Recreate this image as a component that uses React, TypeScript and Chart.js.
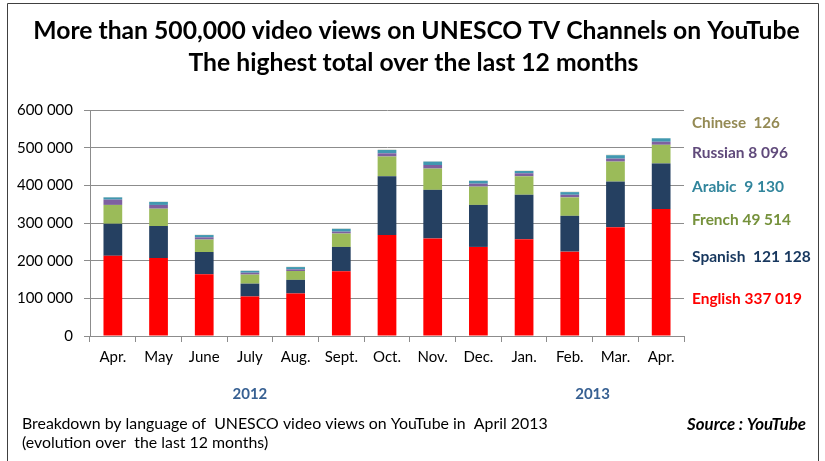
import React, { useEffect, useRef } from "react";
import { Chart, registerables } from "chart.js";

Chart.register(...registerables);

const months = ["Apr.", "May", "June", "July", "Aug.", "Sept.", "Oct.", "Nov.", "Dec.", "Jan.", "Feb.", "Mar.", "Apr."];
const english = [213000, 207000, 164000, 105000, 113000, 172000, 268000, 259000, 236500, 257000, 224000, 289000, 337019];
const spanish = [85000, 85000, 59000, 34000, 36000, 64500, 156000, 129000, 111500, 118000, 95000, 121000, 121128];
const french = [50000, 46000, 33000, 24000, 23500, 35500, 52500, 56500, 48500, 49000, 49000, 53000, 49514];
const russian = [14000, 10000, 6000, 5000, 4500, 5000, 8500, 9500, 8000, 8000, 7000, 8000, 8096];
const arabic = [6000, 8000, 6000, 5000, 6000, 7500, 9000, 9000, 7500, 6000, 7000, 9000, 9130];
const chinese = [1000, 1000, 1200, 1200, 1200, 1200, 1200, 1200, 1200, 1500, 1500, 1500, 600];

const years = ["2012", "2013"];
const yearIndex = [3, 10.5];

const sideNames = ["Chinese  126", "Russian 8 096", "Arabic  9 130", "French 49 514", "Spanish  121 128", "English 337 019"];
const sideColors = ["#948A54", "#604A7B", "#31859C", "#76923C", "#17375E", "#FF0000"];
const sideY = [123, 153, 187, 220, 257, 299];
const sideWidths = [88, 96, 92, 99, 119, 110];

const titleLines = ["More than 500,000 video views on UNESCO TV Channels on YouTube", "The highest total over the last 12 months"];
const noteLines = ["Breakdown by language of  UNESCO video views on YouTube in  April 2013", "(evolution over  the last 12 months)"];
const sourceText = "Source : YouTube";

const FONT = "Lato, 'Liberation Sans', sans-serif";

function fitSize(ctx: CanvasRenderingContext2D, text: string, prefix: string, target: number) {
  ctx.font = `${prefix} 20px ${FONT}`;
  const w = ctx.measureText(text).width;
  return (20 * target) / w;
}

const fmt = (v: number) => String(v).replace(/\B(?=(\d{3})+(?!\d))/g, " ");

const textPlugin = {
  id: "texts",
  beforeDraw(chart: any) {
    const ctx = chart.ctx;
    ctx.save();
    ctx.fillStyle = "#ffffff";
    ctx.fillRect(0, 0, chart.width, chart.height);
    ctx.restore();
  },
  afterDraw(chart: any) {
    const ctx: CanvasRenderingContext2D = chart.ctx;
    const xs = chart.scales.x;
    ctx.save();
    // frame
    ctx.strokeStyle = "#404040";
    ctx.lineWidth = 1;
    ctx.beginPath();
    ctx.moveTo(7.5, 461);
    ctx.lineTo(7.5, 3.5);
    ctx.lineTo(818.5, 3.5);
    ctx.lineTo(818.5, 461);
    ctx.stroke();

    // title
    const ts = fitSize(ctx, titleLines[0], "bold", 767);
    ctx.font = `bold ${ts}px ${FONT}`;
    ctx.fillStyle = "#000000";
    ctx.textAlign = "center";
    ctx.textBaseline = "middle";
    ctx.fillText(titleLines[0], 416.5, 31);
    ctx.fillText(titleLines[1], 413.5, 63);

    // year labels
    ctx.font = `bold 15px ${FONT}`;
    ctx.fillStyle = "#376092";
    years.forEach((y, i) => {
      const lo = Math.floor(yearIndex[i]);
      const hi = Math.ceil(yearIndex[i]);
      const px = (xs.getPixelForValue(lo) + xs.getPixelForValue(hi)) / 2;
      ctx.fillText(y, px, 394);
    });

    // side labels
    ctx.textAlign = "left";
    sideNames.forEach((t, i) => {
      const s = fitSize(ctx, t, "bold", sideWidths[i]);
      ctx.font = `bold ${s}px ${FONT}`;
      ctx.fillStyle = sideColors[i];
      ctx.fillText(t, 692, sideY[i]);
    });

    // notes
    const ns = fitSize(ctx, noteLines[0], "", 526);
    ctx.font = `${ns}px ${FONT}`;
    ctx.fillStyle = "#000000";
    ctx.fillText(noteLines[0], 22, 424);
    ctx.fillText(noteLines[1], 22, 443);

    const ss = fitSize(ctx, sourceText, "italic bold", 119);
    ctx.font = `italic bold ${ss}px ${FONT}`;
    ctx.textAlign = "right";
    ctx.fillText(sourceText, 806, 425);
    ctx.restore();
  },
};

export default function App() {
  const ref = useRef<HTMLCanvasElement | null>(null);
  useEffect(() => {
    if (!ref.current) return;
    const mk = (label: string, data: number[], color: string) => ({
      label,
      data,
      backgroundColor: color,
      borderWidth: 0,
      categoryPercentage: 1,
      barPercentage: 0.41,
    });
    const chart = new Chart(ref.current, {
      type: "bar",
      data: {
        labels: months,
        datasets: [
          mk("English", english, "#FF0000"),
          mk("Spanish", spanish, "#254061"),
          mk("French", french, "#9BBB59"),
          mk("Russian", russian, "#7E60A0"),
          mk("Arabic", arabic, "#4198B0"),
          mk("Chinese", chinese, "#D9D6C4"),
        ],
      },
      options: {
        animation: false,
        responsive: false,
        maintainAspectRatio: false,
        layout: { padding: { left: 0, right: 141, top: 110, bottom: 95 } },
        plugins: { legend: { display: false }, tooltip: { enabled: false }, title: { display: false } },
        scales: {
          x: {
            stacked: true,
            afterFit: (s: any) => {
              s.height = 30;
            },
            grid: { display: true, drawOnChartArea: false, drawTicks: true, tickLength: 6, offset: true, color: "#8c8c8c" },
            border: { display: true, color: "#8c8c8c" },
            ticks: { color: "#000", font: { family: FONT, size: 15 }, padding: 6, maxRotation: 0, autoSkip: false },
          },
          y: {
            stacked: true,
            min: 0,
            max: 600000,
            afterFit: (s: any) => {
              s.width = 90;
            },
            grid: { color: "#8c8c8c", tickLength: 6, drawTicks: true },
            border: { display: true, color: "#8c8c8c" },
            ticks: {
              stepSize: 100000,
              color: "#000",
              padding: 11,
              font: { family: FONT, size: 15 },
              callback: (v: any) => fmt(Number(v)),
            },
          },
        },
      },
      plugins: [textPlugin],
    });
    return () => chart.destroy();
  }, []);
  return (
    <div style={{ position: "fixed", left: 0, top: 0, width: 825, height: 461, background: "#fff" }}>
      <canvas ref={ref} width={825} height={461} style={{ width: 825, height: 461, display: "block" }} />
    </div>
  );
}
